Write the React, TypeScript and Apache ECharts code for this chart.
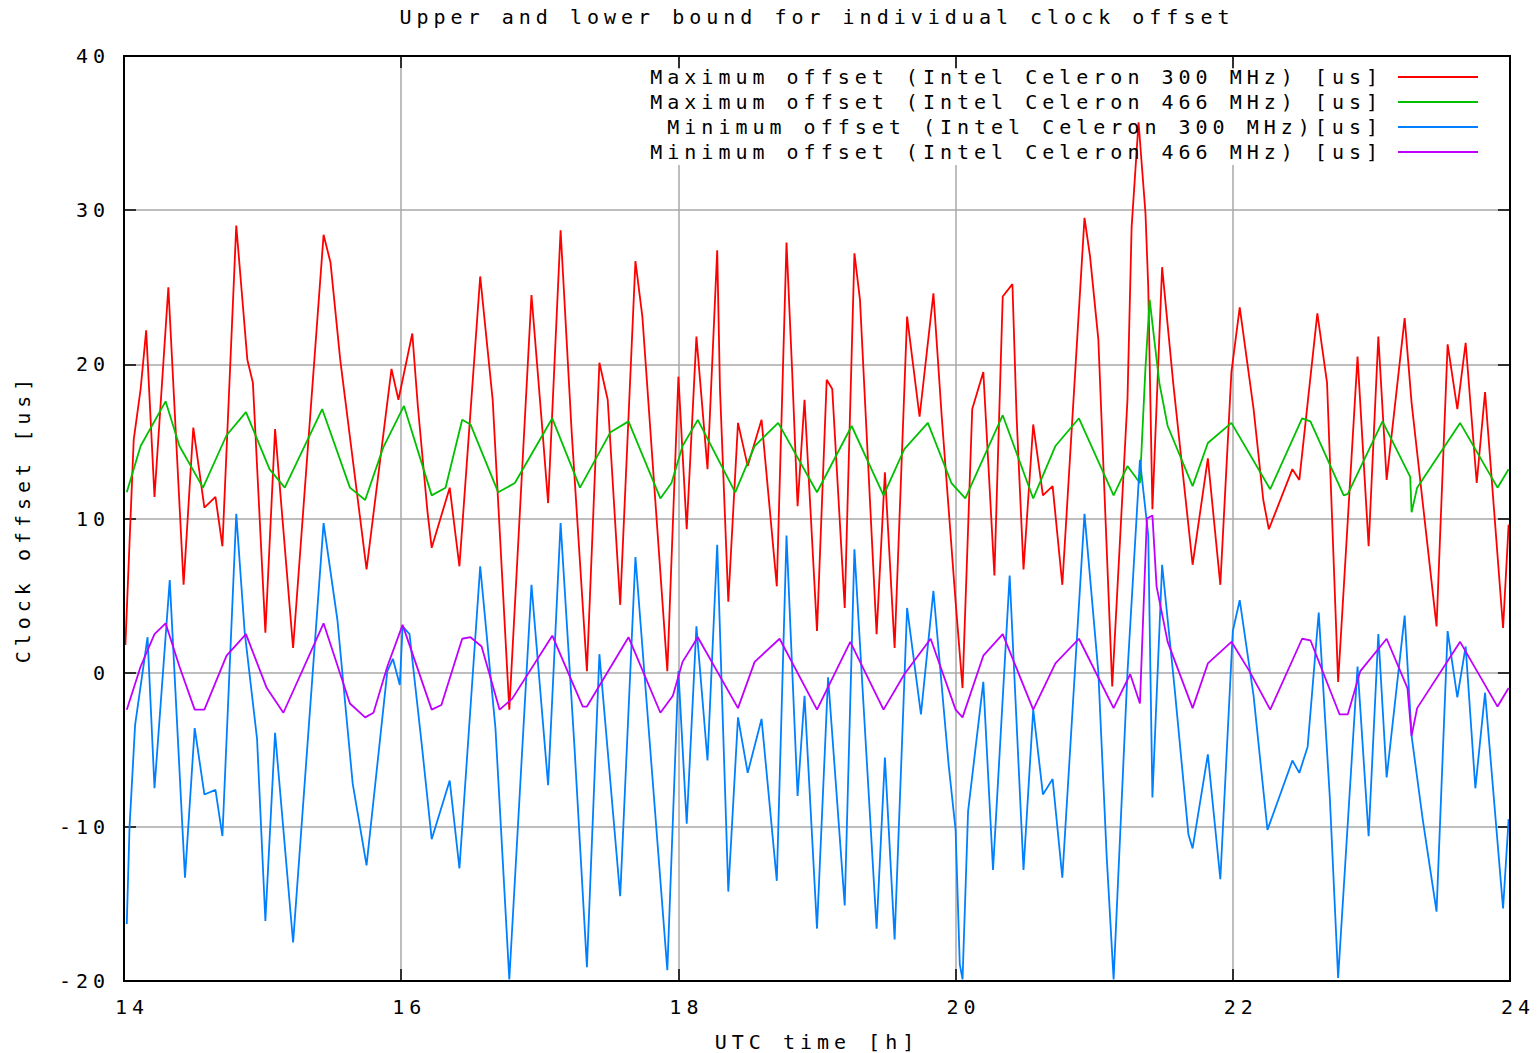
import React, { useEffect, useRef } from "react";
import * as echarts from "echarts";

const TITLE = "Upper and lower bound for individual clock offset";
const X_NAME = "UTC time [h]";
const Y_NAME = "Clock offset [us]";
const X_MIN = 14;
const X_MAX = 24;
const X_STEP = 2;
const Y_MIN = -20;
const Y_MAX = 40;
const Y_STEP = 10;

const SERIES_NAMES = [
  "Maximum offset (Intel Celeron 300 MHz) [us]",
  "Maximum offset (Intel Celeron 466 MHz) [us]",
  "Minimum offset (Intel Celeron 300 MHz)[us]",
  "Minimum offset (Intel Celeron 466 MHz) [us]",
];
const SERIES_COLORS = ["#ff0000", "#00c000", "#0080ff", "#c000ff"];

// [UTC hour, offset us]
const maxOffset300: [number, number][] = [
  [14.01, 1.8], [14.07, 15.1], [14.12, 18.4], [14.16, 22.2], [14.22, 11.4], [14.32, 25.0],
  [14.43, 5.7], [14.5, 15.9], [14.58, 10.7], [14.66, 11.4], [14.71, 8.2], [14.81, 29.0],
  [14.89, 20.3], [14.93, 18.8], [15.02, 2.6], [15.09, 15.8], [15.22, 1.6], [15.44, 28.4],
  [15.49, 26.6], [15.56, 20.3], [15.75, 6.7], [15.93, 19.7], [15.98, 17.7], [16.08, 22.0],
  [16.12, 17.3], [16.19, 10.4], [16.22, 8.1], [16.35, 12.0], [16.42, 6.9], [16.57, 25.7],
  [16.66, 17.7], [16.78, -2.4], [16.94, 24.5], [17.02, 15.6], [17.06, 11.0], [17.15, 28.7],
  [17.23, 15.6], [17.34, 0.1], [17.43, 20.1], [17.49, 17.7], [17.58, 4.4], [17.69, 26.7],
  [17.74, 23.1], [17.92, 0.1], [18.0, 19.2], [18.06, 9.3], [18.13, 21.8], [18.21, 13.2],
  [18.28, 27.4], [18.3, 18.4], [18.36, 4.6], [18.43, 16.2], [18.5, 13.4], [18.6, 16.4],
  [18.71, 5.6], [18.78, 27.9], [18.82, 19.7], [18.86, 10.8], [18.91, 17.7], [19.0, 2.7],
  [19.07, 19.0], [19.11, 18.4], [19.2, 4.2], [19.27, 27.2], [19.31, 24.2], [19.43, 2.5],
  [19.49, 13.0], [19.56, 1.6], [19.65, 23.1], [19.74, 16.6], [19.84, 24.6], [19.9, 16.6],
  [20.0, 4.6], [20.05, -1.0], [20.12, 17.1], [20.2, 19.5], [20.28, 6.3], [20.34, 24.4],
  [20.41, 25.2], [20.44, 16.6], [20.49, 6.7], [20.56, 16.1], [20.63, 11.5], [20.7, 12.1],
  [20.77, 5.7], [20.93, 29.5], [20.97, 27.0], [21.03, 21.6], [21.13, -0.9], [21.24, 17.7],
  [21.27, 28.9], [21.32, 35.7], [21.37, 29.8], [21.39, 25.0], [21.42, 10.6], [21.49, 26.3],
  [21.57, 18.8], [21.71, 7.0], [21.82, 13.9], [21.91, 5.7], [21.99, 19.5], [22.05, 23.7],
  [22.15, 17.1], [22.22, 11.2], [22.26, 9.3], [22.43, 13.2], [22.48, 12.5], [22.61, 23.3],
  [22.68, 18.8], [22.76, -0.6], [22.9, 20.5], [22.98, 8.2], [23.05, 21.8], [23.11, 12.5],
  [23.24, 23.0], [23.29, 17.5], [23.47, 3.0], [23.55, 21.3], [23.62, 17.1], [23.68, 21.4],
  [23.76, 12.3], [23.82, 18.2], [23.95, 2.9], [23.99, 9.6],
];

const maxOffset466: [number, number][] = [
  [14.02, 11.7], [14.12, 14.7], [14.3, 17.6], [14.4, 14.7], [14.57, 12.0], [14.74, 15.4],
  [14.88, 16.9], [15.05, 13.2], [15.16, 12.0], [15.43, 17.1], [15.63, 12.0], [15.74, 11.2],
  [15.87, 14.6], [16.02, 17.3], [16.22, 11.5], [16.32, 12.0], [16.44, 16.4], [16.5, 16.1],
  [16.7, 11.7], [16.82, 12.3], [17.09, 16.5], [17.29, 12.0], [17.51, 15.6], [17.64, 16.3],
  [17.87, 11.3], [17.95, 12.3], [18.03, 14.7], [18.14, 16.4], [18.41, 11.7], [18.55, 14.7],
  [18.72, 16.2], [19.0, 11.7], [19.25, 16.0], [19.48, 11.5], [19.63, 14.5], [19.8, 16.2],
  [19.97, 12.3], [20.07, 11.3], [20.34, 16.7], [20.56, 11.3], [20.72, 14.7], [20.89, 16.5],
  [21.14, 11.5], [21.24, 13.4], [21.33, 12.3], [21.37, 19.8], [21.4, 24.2], [21.44, 21.1],
  [21.47, 18.8], [21.53, 16.0], [21.71, 12.1], [21.82, 14.9], [21.99, 16.2], [22.27, 11.9],
  [22.5, 16.5], [22.56, 16.3], [22.8, 11.5], [22.83, 11.6], [23.08, 16.3], [23.28, 12.7],
  [23.29, 10.4], [23.33, 12.0], [23.64, 16.2], [23.91, 12.0], [23.99, 13.2],
];

const minOffset300: [number, number][] = [
  [14.02, -16.3], [14.04, -10.0], [14.08, -3.4], [14.17, 2.3], [14.22, -7.5], [14.33, 6.0],
  [14.44, -13.3], [14.51, -3.6], [14.58, -7.9], [14.66, -7.6], [14.71, -10.6], [14.81, 10.3],
  [14.87, 2.7], [14.96, -4.3], [15.02, -16.1], [15.09, -3.9], [15.22, -17.5], [15.44, 9.7],
  [15.54, 3.4], [15.65, -7.2], [15.75, -12.5], [15.9, 0.1], [15.94, 0.9], [15.99, -0.8],
  [16.01, 3.0], [16.06, 2.5], [16.15, -4.8], [16.22, -10.8], [16.35, -7.0], [16.42, -12.7],
  [16.57, 6.9], [16.68, -3.6], [16.78, -19.9], [16.94, 5.7], [17.06, -7.3], [17.15, 9.7],
  [17.25, -4.8], [17.34, -19.1], [17.43, 1.2], [17.58, -14.5], [17.69, 7.5], [17.92, -19.3],
  [18.0, 0.1], [18.06, -9.8], [18.13, 3.0], [18.21, -5.7], [18.28, 8.3], [18.36, -14.2],
  [18.43, -2.9], [18.5, -6.5], [18.6, -3.0], [18.71, -13.5], [18.78, 8.9], [18.86, -8.0],
  [18.91, -1.5], [19.0, -16.6], [19.08, -0.3], [19.2, -15.1], [19.27, 8.0], [19.43, -16.6],
  [19.49, -5.5], [19.56, -17.3], [19.65, 4.2], [19.75, -2.7], [19.84, 5.3], [19.95, -6.0],
  [20.0, -10.2], [20.03, -18.9], [20.05, -19.9], [20.09, -9.0], [20.2, -0.6], [20.27, -12.8],
  [20.39, 6.3], [20.49, -12.8], [20.56, -2.4], [20.63, -7.9], [20.7, -6.9], [20.77, -13.3],
  [20.93, 10.3], [21.03, 0.0], [21.09, -11.9], [21.14, -19.9], [21.24, 0.0], [21.33, 13.8],
  [21.39, 8.9], [21.42, -8.1], [21.49, 7.0], [21.58, -1.0], [21.68, -10.5], [21.71, -11.4],
  [21.82, -5.3], [21.91, -13.4], [22.0, 2.7], [22.05, 4.7], [22.15, -1.5], [22.25, -10.2],
  [22.43, -5.7], [22.48, -6.5], [22.54, -4.8], [22.62, 3.9], [22.7, -8.1], [22.76, -19.8],
  [22.9, 0.4], [22.98, -10.6], [23.05, 2.5], [23.11, -6.8], [23.24, 3.7], [23.29, -4.1],
  [23.37, -9.5], [23.47, -15.5], [23.55, 2.7], [23.62, -1.6], [23.68, 1.7], [23.75, -7.5],
  [23.82, -1.3], [23.95, -15.3], [23.99, -9.5],
];

const minOffset466: [number, number][] = [
  [14.02, -2.4], [14.12, 0.4], [14.22, 2.5], [14.3, 3.2], [14.4, 0.4], [14.51, -2.4],
  [14.58, -2.4], [14.74, 1.1], [14.88, 2.5], [15.03, -1.0], [15.15, -2.6], [15.44, 3.2],
  [15.63, -2.0], [15.74, -2.9], [15.8, -2.6], [15.9, 0.4], [16.01, 3.1], [16.22, -2.4],
  [16.29, -2.1], [16.44, 2.2], [16.5, 2.3], [16.58, 1.7], [16.71, -2.4], [16.8, -1.7],
  [17.09, 2.4], [17.31, -2.2], [17.34, -2.2], [17.64, 2.3], [17.87, -2.6], [17.96, -1.5],
  [18.03, 0.7], [18.14, 2.3], [18.43, -2.3], [18.55, 0.7], [18.73, 2.2], [19.0, -2.4],
  [19.24, 2.0], [19.48, -2.4], [19.63, -0.1], [19.82, 2.2], [20.0, -2.4], [20.05, -2.9],
  [20.2, 1.1], [20.34, 2.5], [20.56, -2.4], [20.72, 0.6], [20.89, 2.2], [21.14, -2.3],
  [21.26, -0.1], [21.33, -2.0], [21.38, 10.0], [21.42, 10.2], [21.45, 5.6], [21.53, 2.0],
  [21.71, -2.3], [21.82, 0.6], [21.99, 2.0], [22.12, 0.1], [22.27, -2.4], [22.5, 2.2],
  [22.56, 2.1], [22.77, -2.7], [22.83, -2.7], [22.92, 0.1], [23.11, 2.2], [23.26, -1.0],
  [23.29, -4.1], [23.33, -2.3], [23.64, 2.0], [23.91, -2.2], [23.99, -1.0],
];

const SERIES_DATA = [maxOffset300, maxOffset466, minOffset300, minOffset466];

const FONT = '"DejaVu Sans Mono", monospace';
const FS = 20;

export default function App() {
  const ref = useRef<HTMLDivElement>(null);

  useEffect(() => {
    document.body.style.margin = "0";
    const chart = echarts.init(ref.current!, null, { renderer: "svg" });
    const textBase = { fontFamily: FONT, fontSize: FS, color: "#000", fontWeight: "normal" as const };
    const tickStyle = { show: true, inside: true, length: 12, lineStyle: { color: "#000", width: 1.5 } };
    const gridLine = { show: true, lineStyle: { color: "#a8a8a8", width: 1.5 } };
    const hiddenLine = { show: false, onZero: false };

    chart.setOption({
      animation: false,
      backgroundColor: "#ffffff",
      title: {
        text: TITLE,
        left: 817,
        top: 7,
        textAlign: "center",
        padding: 0,
        textStyle: { ...textBase },
      },
      grid: {
        left: 124,
        right: 27,
        top: 56,
        bottom: 72,
        containLabel: false,
        outerBoundsMode: "none",
        show: true,
        borderColor: "#000",
        borderWidth: 2,
        backgroundColor: "transparent",
        z: 3,
      },
      legend: SERIES_NAMES.map((name, i) => ({
        data: [name],
        right: 59,
        top: 67 + 25 * i,
        orient: "horizontal",
        align: "right",
        icon: "rect",
        itemWidth: 80,
        itemHeight: 2,
        padding: 0,
        selectedMode: false,
        textStyle: { ...textBase, padding: [0, 10, 0, 0] },
      })),
      graphic: [
        {
          type: "rect",
          z: 1,
          shape: { x: 636, y: 69, width: 860, height: 96 },
          style: { fill: "#ffffff" },
        },
      ],
      xAxis: [
        {
          type: "value",
          min: X_MIN,
          max: X_MAX,
          interval: X_STEP,
          position: "bottom",
          axisLine: hiddenLine,
          axisTick: tickStyle,
          splitLine: gridLine,
          axisLabel: { ...textBase, margin: 16, padding: [0, 0, 0, 16] },
          name: X_NAME,
          nameLocation: "middle",
          nameGap: 51,
          nameTextStyle: { ...textBase },
        },
        {
          type: "value",
          min: X_MIN,
          max: X_MAX,
          interval: X_STEP,
          position: "top",
          axisLine: hiddenLine,
          axisTick: tickStyle,
          splitLine: { show: false },
          axisLabel: { show: false },
        },
      ],
      yAxis: [
        {
          type: "value",
          min: Y_MIN,
          max: Y_MAX,
          interval: Y_STEP,
          position: "left",
          axisLine: hiddenLine,
          axisTick: tickStyle,
          splitLine: gridLine,
          axisLabel: { ...textBase, margin: 14 },
          name: Y_NAME,
          nameLocation: "middle",
          nameGap: 91,
          nameTextStyle: { ...textBase },
        },
        {
          type: "value",
          min: Y_MIN,
          max: Y_MAX,
          interval: Y_STEP,
          position: "right",
          axisLine: hiddenLine,
          axisTick: tickStyle,
          splitLine: { show: false },
          axisLabel: { show: false },
        },
      ],
      series: SERIES_NAMES.map((name, i) => ({
        type: "line",
        name,
        data: SERIES_DATA[i],
        xAxisIndex: 0,
        yAxisIndex: 0,
        showSymbol: false,
        symbol: "none",
        z: 2,
        lineStyle: { color: SERIES_COLORS[i], width: 1.8 },
        itemStyle: { color: SERIES_COLORS[i] },
        emphasis: { disabled: true },
      })),
    });

    return () => chart.dispose();
  }, []);

  return (
    <>
      <style>{`#clock-chart text { letter-spacing: 5px; }`}</style>
      <div
        id="clock-chart"
        ref={ref}
        style={{ position: "fixed", left: 0, top: 0, width: 1537, height: 1053 }}
      />
    </>
  );
}
